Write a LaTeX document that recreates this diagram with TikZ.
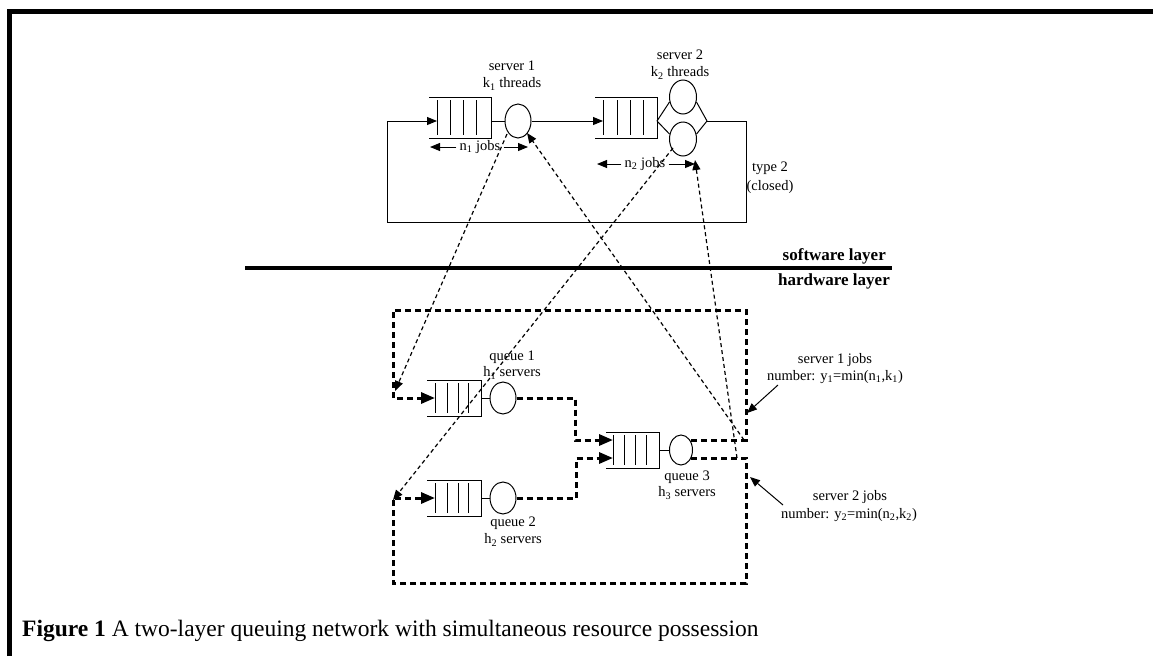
\documentclass[tikz,border=0pt]{standalone}
\usepackage{fontspec}
\setmainfont{Liberation Serif}
\usetikzlibrary{arrows.meta,shapes.geometric}
\begin{document}
\begin{tikzpicture}[x=1pt,y=-1pt,
  every node/.style={font=\fontsize{14.5}{16}\selectfont, inner sep=0pt},
  solid line/.style={line width=1pt},
  srv/.style={draw, ellipse, line width=1pt, inner sep=0pt},
  thickdash/.style={line width=3pt, dash pattern=on 6pt off 4pt},
  thindash/.style={line width=1.2pt, dash pattern=on 4pt off 3pt},
  bigtip/.style={-{Triangle[length=14pt,width=11pt]}},
  smalltip/.style={-{Triangle[length=10pt,width=8pt]}},
  layerlabel/.style={font=\fontsize{17}{19}\selectfont\bfseries, anchor=east}]
\useasboundingbox (0,0) rectangle (1153,656);
% frame
\draw[line width=5pt] (9.5,656) -- (9.5,11.5) -- (1153,11.5);

% ---------------- software layer ----------------
% queue 1
\draw[solid line] (429,97) -- (491,97) -- (491,138) -- (429,138);
\foreach \x in {437,450,463,476} \draw[solid line] (\x,100) -- (\x,135);
\coordinate (q1in) at (437,121);
\coordinate (q1out) at (491,121);
\node[srv, minimum width=26pt, minimum height=34pt] (s1) at (518,121) {};
\draw[solid line] (q1out) -- (s1.west);
% queue 2
\draw[solid line] (595,97) -- (657,97) -- (657,138) -- (595,138);
\foreach \x in {603,617,630,643} \draw[solid line] (\x,100) -- (\x,135);
\coordinate (q2in) at (603,121);
\coordinate (s2l) at (657,121);
\coordinate (s2r) at (707,121);
\node[srv, minimum width=27pt, minimum height=34pt] (s2a) at (683,97) {};
\node[srv, minimum width=27pt, minimum height=34pt] (s2b) at (683,139) {};
\draw[solid line] (s2l) -- (s2a.200);
\draw[solid line] (s2l) -- (s2b.160);
\draw[solid line] (s2r) -- (s2a.-20);
\draw[solid line] (s2r) -- (s2b.20);
\draw[solid line, smalltip] (s1.east) -- (q2in);
% closed loop
\coordinate (lp1) at (746,121);
\coordinate (lp2) at (746,222);
\coordinate (lp3) at (387,222);
\coordinate (lp4) at (387,121);
\draw[solid line, smalltip] (s2r) -- (lp1) -- (lp2) -- (lp3) -- (lp4) -- (q1in);

% labels
\node[align=center] (l1a) at (512,66) {server 1};
\node (l1b) at (512,84) {k\textsubscript{1} threads};
\node (l2a) at (680,55) {server 2};
\node (l2b) at (680,73) {k\textsubscript{2} threads};
\node (n1) at (480,147) {n\textsubscript{1} jobs};
\coordinate (n1l) at (430,147);
\coordinate (n1r) at (528,147);
\draw[solid line, smalltip] (n1.west) ++(-3,0) -- (n1l);
\draw[solid line, smalltip] (n1.east) ++(3,0) -- (n1r);
\node (n2) at (645,164) {n\textsubscript{2} jobs};
\coordinate (n2l) at (597,164);
\coordinate (n2r) at (695,164);
\draw[solid line, smalltip] (n2.west) ++(-3,0) -- (n2l);
\draw[solid line, smalltip] (n2.east) ++(3,0) -- (n2r);
\node (t2a) at (770,168) {type 2};
\node (t2b) at (770,187) {(closed)};

% layer separator
\coordinate (sepl) at (245,268);
\coordinate (sepr) at (892,268);
\draw[line width=4pt] (sepl) -- (sepr);
\node[layerlabel] (sw) at (886,256) {software layer};
\node[layerlabel] (hw) at (890,281) {hardware layer};

% ---------------- hardware layer ----------------
% hq1
\draw[solid line] (427,380) -- (481,380) -- (481,416) -- (427,416);
\foreach \x in {435,447,458,468} \draw[solid line] (\x,383) -- (\x,413);
\coordinate (h1in) at (435,398);
\node[srv, minimum width=26pt, minimum height=32pt] (h1) at (503,398) {};
\draw[solid line] (481,398) -- (h1.west);
% hq2
\draw[solid line] (427,480) -- (481,480) -- (481,516) -- (427,516);
\foreach \x in {435,447,458,468} \draw[solid line] (\x,483) -- (\x,513);
\coordinate (h2in) at (435,498);
\node[srv, minimum width=26pt, minimum height=32pt] (h2) at (503,498) {};
\draw[solid line] (481,498) -- (h2.west);
% hq3
\draw[solid line] (606,432) -- (659,432) -- (659,468) -- (606,468);
\foreach \x in {613,624,635,646} \draw[solid line] (\x,435) -- (\x,465);
\coordinate (h3ina) at (613,440);
\coordinate (h3inb) at (613,458);
\node[srv, minimum width=23pt, minimum height=30pt] (h3) at (681,450) {};
\draw[solid line] (659,450) -- (h3.west);

\coordinate (h3oa) at (691,440);
\coordinate (h3ob) at (691,458);
% thick dashed routes
\draw[thickdash, bigtip] (h3oa) -- (746,440) -- (746,310) -- (393,310) -- (393,398) -- (h1in);
\draw[thickdash, bigtip] (h3ob) -- (746,458) -- (746,583) -- (393,583) -- (393,498) -- (h2in);
\draw[thickdash, bigtip] (h1.east) -- (575,398) -- (575,440) -- (h3ina);
\draw[thickdash, bigtip] (h2.east) -- (576,498) -- (576,458) -- (h3inb);

% hardware labels
\node (hq1a) at (512,357) {queue 1};
\node (hq1b) at (512,373) {h\textsubscript{1} servers};
\node (hq2a) at (513,523) {queue 2};
\node (hq2b) at (513,540) {h\textsubscript{2} servers};
\node (hq3a) at (687,477) {queue 3};
\node (hq3b) at (687,493) {h\textsubscript{3} servers};

\node (j1a) at (835,360) {server 1 jobs};
\node (j1b) at (835,377) {number: y\textsubscript{1}=min(n\textsubscript{1},k\textsubscript{1})};
\node (j2a) at (850,497) {server 2 jobs};
\node (j2b) at (849,515) {number: y\textsubscript{2}=min(n\textsubscript{2},k\textsubscript{2})};
\coordinate (a1s) at (778,385);
\coordinate (a1e) at (747,413);
\coordinate (a2s) at (783,505);
\coordinate (a2e) at (750,477);
\draw[solid line, smalltip] (a1s) -- (a1e);
\draw[solid line, smalltip] (a2s) -- (a2e);

% cross-layer dashed links
\coordinate (x1s) at (507,134);
\coordinate (x1e) at (395,391);
\coordinate (x2s) at (744,440);
\coordinate (x2e) at (527,133);
\coordinate (x3s) at (673,148);
\coordinate (x3e) at (393,500);
\coordinate (x4s) at (737,458);
\coordinate (x4e) at (695,160);
\draw[thindash, smalltip] (x1s) -- (x1e);
\draw[thindash, smalltip] (x2s) -- (x2e);
\draw[thindash, smalltip] (x3s) -- (x3e);
\draw[thindash, smalltip] (x4s) -- (x4e);

% caption
\node[anchor=base west, font=\fontsize{23.5}{27}\selectfont] (cap) at (22,636) {\textbf{Figure 1} A two-layer queuing network with simultaneous resource possession};
\end{tikzpicture}
\end{document}
